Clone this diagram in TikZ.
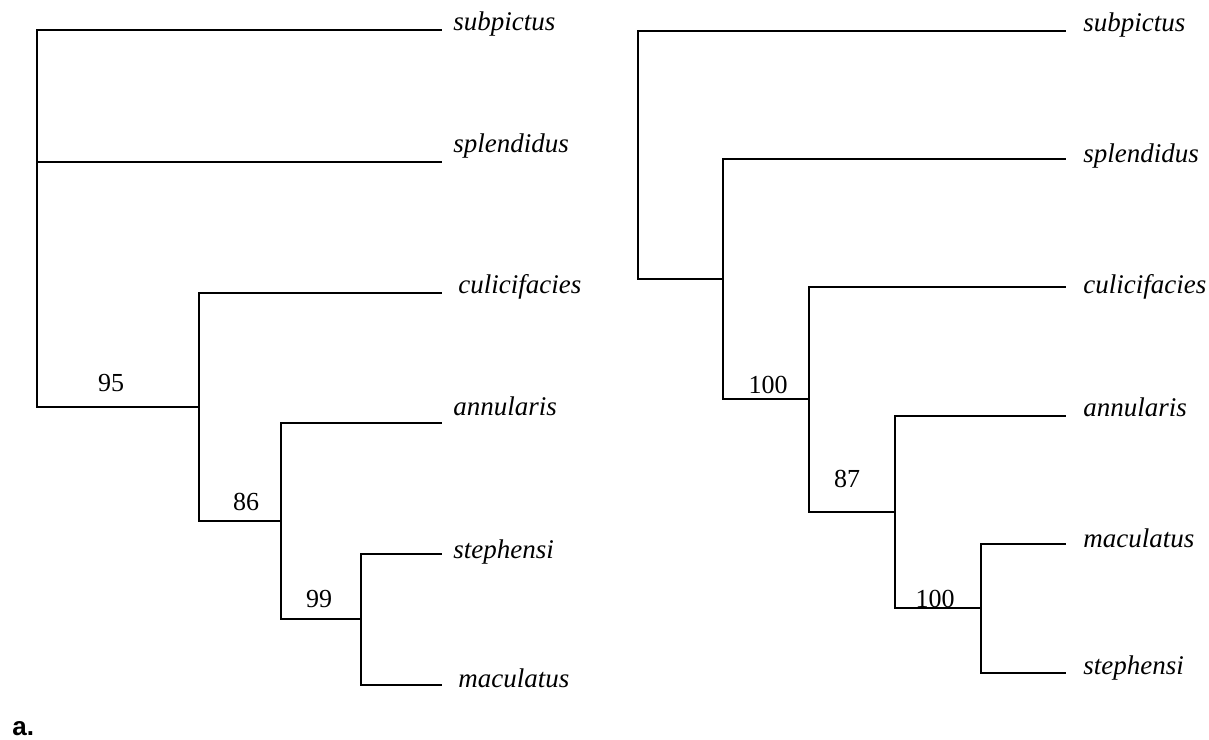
\documentclass[tikz,border=0pt]{standalone}
\usepackage{fontspec}
\setmainfont{Liberation Serif}
\newfontfamily\panelfont{Liberation Sans}
\begin{document}
\begin{tikzpicture}[x=0.5pt,y=-0.5pt,
  branch/.style={line width=1pt},
  taxon/.style={anchor=base west,inner sep=0pt,font=\fontsize{13.5}{16}\selectfont\itshape},
  support/.style={pos=0.75,anchor=base,inner sep=0pt,font=\fontsize{13}{15}\selectfont}]
  \useasboundingbox (0,0) rectangle (1209,739);

  % left tree
  \coordinate (lroot) at (37,218);
  \coordinate (l95) at (199,407);
  \coordinate (l86) at (281,521);
  \coordinate (l99) at (361,619);
  \coordinate (lsub) at (442,30);
  \coordinate (lspl) at (442,162);
  \coordinate (lcul) at (442,293);
  \coordinate (lann) at (442,423);
  \coordinate (lste) at (442,554);
  \coordinate (lmac) at (442,685);

  \draw [branch] (lroot) |- (lsub);
  \draw [branch] (lroot) |- (lspl);
  \draw [branch] (lroot) |- node [support,xshift=-3.5pt,yshift=8pt] {95} (l95);
  \draw [branch] (l95) |- (lcul);
  \draw [branch] (l95) |- node [support,xshift=3pt,yshift=5.5pt] {86} (l86);
  \draw [branch] (l86) |- (lann);
  \draw [branch] (l86) |- node [support,xshift=-1pt,yshift=6pt] {99} (l99);
  \draw [branch] (l99) |- (lste);
  \draw [branch] (l99) |- (lmac);

  \node [taxon,xshift=5.5pt,yshift=-0.5pt] (tlsub) at (lsub) {subpictus};
  \node [taxon,xshift=5.5pt,yshift=5pt] (tlspl) at (lspl) {splendidus};
  \node [taxon,xshift=8pt,yshift=0pt] (tlcul) at (lcul) {culicifacies};
  \node [taxon,xshift=5.5pt,yshift=4pt] (tlann) at (lann) {annularis};
  \node [taxon,xshift=5.5pt,yshift=-2pt] (tlste) at (lste) {stephensi};
  \node [taxon,xshift=8pt,yshift=-1pt] (tlmac) at (lmac) {maculatus};

  % right tree
  \coordinate (rroot) at (638,154);
  \coordinate (rA) at (723,279);
  \coordinate (rB) at (809,399);
  \coordinate (rC) at (895,512);
  \coordinate (rD) at (981,608);
  \coordinate (rsub) at (1066,31);
  \coordinate (rspl) at (1066,159);
  \coordinate (rcul) at (1066,287);
  \coordinate (rann) at (1066,416);
  \coordinate (rmac) at (1066,544);
  \coordinate (rste) at (1066,673);

  \draw [branch] (rroot) |- (rsub);
  \draw [branch] (rroot) |- (rA);
  \draw [branch] (rA) |- (rspl);
  \draw [branch] (rA) |- node [support,xshift=1pt,yshift=3pt] {100} (rB);
  \draw [branch] (rB) |- (rcul);
  \draw [branch] (rB) |- node [support,xshift=-2.5pt,yshift=12.5pt] {87} (rC);
  \draw [branch] (rC) |- (rann);
  \draw [branch] (rC) |- node [support,xshift=-1.5pt,yshift=0.5pt] {100} (rD);
  \draw [branch] (rD) |- (rmac);
  \draw [branch] (rD) |- (rste);

  \node [taxon,xshift=8.5pt,yshift=-0.5pt] (trsub) at (rsub) {subpictus};
  \node [taxon,xshift=8.5pt,yshift=-1.5pt] (trspl) at (rspl) {splendidus};
  \node [taxon,xshift=8.5pt,yshift=-3pt] (trcul) at (rcul) {culicifacies};
  \node [taxon,xshift=8.5pt,yshift=0pt] (trann) at (rann) {annularis};
  \node [taxon,xshift=8.5pt,yshift=-1.5pt] (trmac) at (rmac) {maculatus};
  \node [taxon,xshift=8.5pt,yshift=-0.5pt] (trste) at (rste) {stephensi};

  \node [anchor=base west,inner sep=0pt,font=\panelfont\fontsize{13}{15}\selectfont\bfseries] (panel) at (12,735) {a.};
\end{tikzpicture}
\end{document}
